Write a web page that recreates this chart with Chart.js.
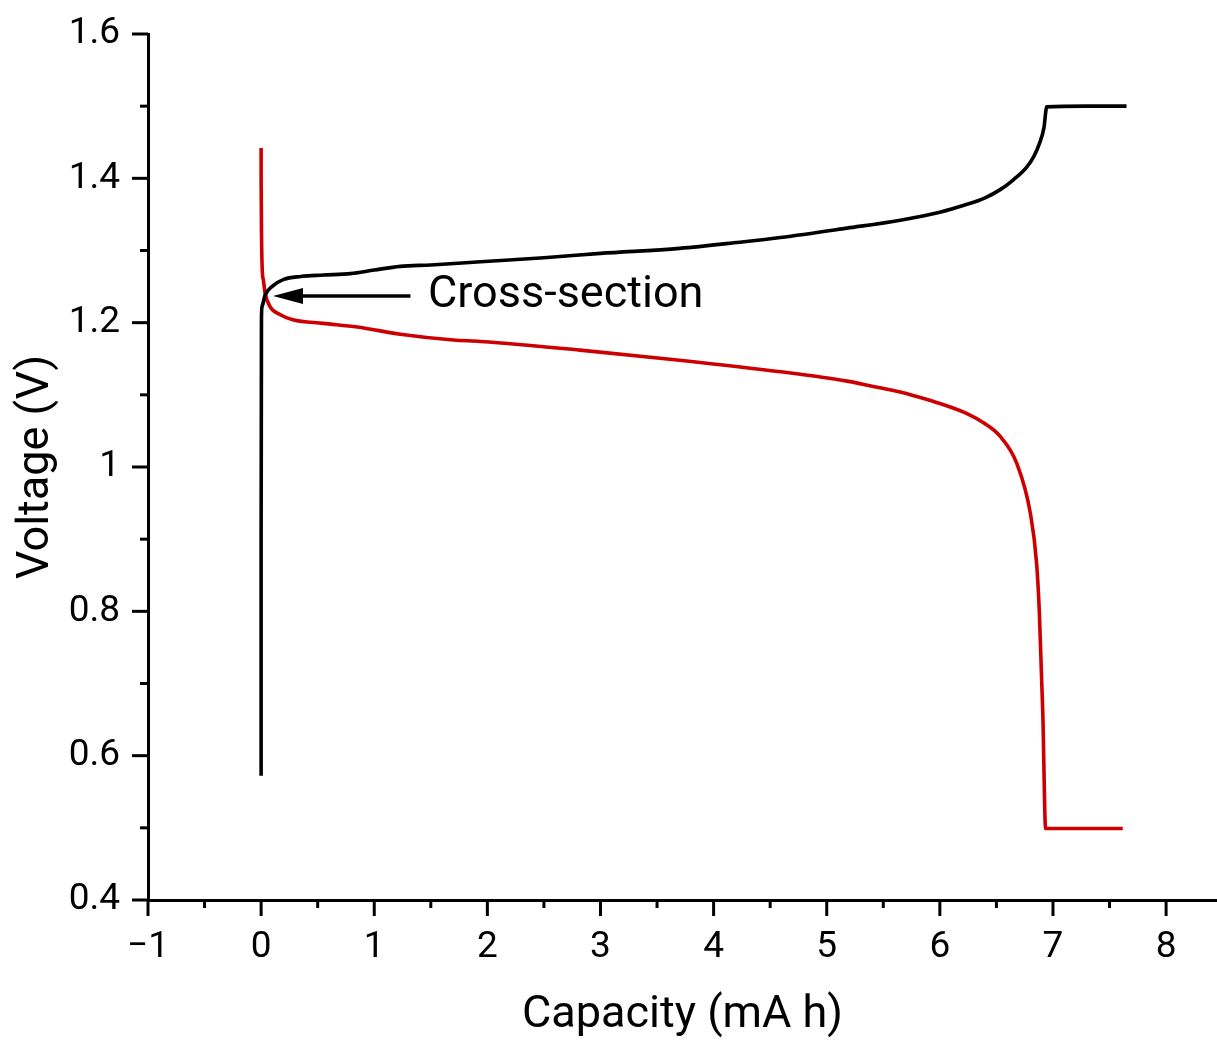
<!DOCTYPE html>
<html><head><meta charset="utf-8">
<script src="https://cdn.jsdelivr.net/npm/chart.js@4.4.1/dist/chart.umd.min.js"></script>
<style>html,body{margin:0;padding:0;background:#fff}#wrap{width:1217px;height:1043px}</style>
</head><body><div id="wrap"><canvas id="c" width="1217" height="1043"></canvas></div>
<script>
// ---- data ----
const chargeCapacity = [0, 0.0, 0.003, 0.008, 0.035, 0.095, 0.2, 0.35, 0.55, 0.79, 1.0, 1.23, 1.5, 1.94, 2.5, 3.0, 3.7, 4.2, 4.59, 5.18, 5.65, 6.0, 6.24, 6.4, 6.53, 6.65, 6.77, 6.83, 6.88, 6.92, 6.945, 7.3, 7.65];
const chargeVoltage  = [0.572, 0.9, 1.205, 1.222, 1.238, 1.25, 1.26, 1.264, 1.266, 1.268, 1.273, 1.278, 1.28, 1.2845, 1.29, 1.296, 1.303, 1.311, 1.318, 1.331, 1.342, 1.353, 1.364, 1.373, 1.384, 1.398, 1.416, 1.43, 1.448, 1.47, 1.499, 1.5, 1.5];
const dischargeCapacity = [0, 0.0, 0.003, 0.01, 0.02, 0.035, 0.08, 0.17, 0.28, 0.55, 0.85, 1.23, 1.7, 1.94, 2.82, 3.7, 4.59, 5.18, 5.4, 5.65, 5.79, 6.0, 6.24, 6.4, 6.53, 6.68, 6.8, 6.855, 6.88, 6.91, 6.935, 7.3, 7.617];
const dischargeVoltage  = [1.442, 1.4, 1.328, 1.273, 1.259, 1.241, 1.222, 1.211, 1.204, 1.199, 1.194, 1.184, 1.176, 1.174, 1.162, 1.148, 1.132, 1.119, 1.112, 1.104, 1.098, 1.088, 1.074, 1.06, 1.043, 1.005, 0.936, 0.867, 0.797, 0.659, 0.499, 0.499, 0.499];
const xMajorTicks = [-1, 0, 1, 2, 3, 4, 5, 6, 7, 8];
const xTickLabels = ['\u22121', '0', '1', '2', '3', '4', '5', '6', '7', '8'];
const yMajorTicks = [0.4, 0.6, 0.8, 1.0, 1.2, 1.4, 1.6];
const yTickLabels = ['0.4', '0.6', '0.8', '1', '1.2', '1.4', '1.6'];
const annotationText = 'Cross-section';
const arrowFrom = [1.32, 1.237];
const arrowTo = [0.105, 1.237];
const textAt = [1.475, 1.237];

const toPts = (xs, ys) => xs.map((x, i) => ({x: x, y: ys[i]}));
const FONT = 'Roboto, "Open Sans", sans-serif';

function labelFor(v, majors, labels) {
  for (let i = 0; i < majors.length; i++) if (Math.abs(v - majors[i]) < 1e-6) return labels[i];
  return '';
}
function stepTicks(from, to, step) {
  const out = [];
  const n = Math.round((to - from) / step);
  for (let i = 0; i <= n; i++) out.push({ value: +(from + i * step).toFixed(6) });
  return out;
}

const tickPlugin = {
  id: 'outTicks',
  afterDraw(chart) {
    const ctx = chart.ctx, xs = chart.scales.x, ys = chart.scales.y;
    ctx.save();
    ctx.strokeStyle = '#000';
    ctx.lineWidth = 3;
    ctx.lineCap = 'butt';
    xs.ticks.forEach(t => {
      const major = labelFor(t.value, xMajorTicks, xTickLabels) !== '';
      const px = xs.getPixelForValue(t.value);
      ctx.beginPath(); ctx.moveTo(px, ys.bottom); ctx.lineTo(px, ys.bottom + (major ? 16 : 8)); ctx.stroke();
    });
    ys.ticks.forEach(t => {
      const major = labelFor(t.value, yMajorTicks, yTickLabels) !== '';
      const py = ys.getPixelForValue(t.value);
      ctx.beginPath(); ctx.moveTo(xs.left, py); ctx.lineTo(xs.left - (major ? 16 : 8), py); ctx.stroke();
    });
    // annotation arrow + text
    const x0 = xs.getPixelForValue(arrowFrom[0]), y0 = ys.getPixelForValue(arrowFrom[1]);
    const x1 = xs.getPixelForValue(arrowTo[0]), y1 = ys.getPixelForValue(arrowTo[1]);
    ctx.lineWidth = 3.5;
    ctx.beginPath(); ctx.moveTo(x0, y0); ctx.lineTo(x1 + 20, y1); ctx.stroke();
    ctx.fillStyle = '#000';
    ctx.beginPath(); ctx.moveTo(x1, y1); ctx.lineTo(x1 + 30, y1 - 8); ctx.lineTo(x1 + 30, y1 + 8); ctx.closePath(); ctx.fill();
    ctx.font = '45px ' + FONT;
    ctx.textBaseline = 'middle';
    ctx.textAlign = 'left';
    ctx.fillText(annotationText, xs.getPixelForValue(textAt[0]), ys.getPixelForValue(textAt[1]));
    ctx.restore();
  }
};

new Chart(document.getElementById('c'), {
  type: 'scatter',
  data: {
    datasets: [
      { label: 'Charge', data: toPts(chargeCapacity, chargeVoltage), showLine: true, borderColor: '#000000', borderWidth: 3.6, pointRadius: 0, cubicInterpolationMode: 'monotone', fill: false },
      { label: 'Discharge', data: toPts(dischargeCapacity, dischargeVoltage), showLine: true, borderColor: '#cc0000', borderWidth: 3.6, pointRadius: 0, cubicInterpolationMode: 'monotone', fill: false }
    ]
  },
  options: {
    responsive: false,
    animation: false,
    layout: { padding: { top: 34, right: 0, left: 0, bottom: 0 } },
    plugins: { legend: { display: false }, tooltip: { enabled: false } },
    scales: {
      x: {
        type: 'linear', min: -1, max: 8.45,
        afterBuildTicks: s => { s.ticks = stepTicks(-1, 8, 0.5); },
        afterFit: s => { s.height = 143; s.paddingLeft = 0; s.paddingRight = 0; },
        ticks: { autoSkip: false, maxRotation: 0, padding: 26, color: '#000', font: { family: FONT, size: 37 },
                 callback: v => labelFor(v, xMajorTicks, xTickLabels) },
        grid: { drawOnChartArea: false, drawTicks: false },
        border: { display: true, color: '#000', width: 3 },
        title: { display: true, text: 'Capacity (mA h)', color: '#000', font: { family: FONT, size: 45 }, padding: { top: 0, bottom: 0 } }
      },
      y: {
        type: 'linear', min: 0.4, max: 1.6,
        afterBuildTicks: s => { s.ticks = stepTicks(0.4, 1.6, 0.1); },
        afterFit: s => { s.width = 148; s.paddingTop = 0; s.paddingBottom = 0; },
        ticks: { autoSkip: false, padding: 28, color: '#000', font: { family: FONT, size: 37 },
                 callback: v => labelFor(v, yMajorTicks, yTickLabels) },
        grid: { drawOnChartArea: false, drawTicks: false },
        border: { display: true, color: '#000', width: 3 },
        title: { display: true, text: 'Voltage (V)', color: '#000', font: { family: FONT, size: 45 }, padding: { top: 10, bottom: 0 } }
      }
    }
  },
  plugins: [tickPlugin]
});
</script>
</body></html>
